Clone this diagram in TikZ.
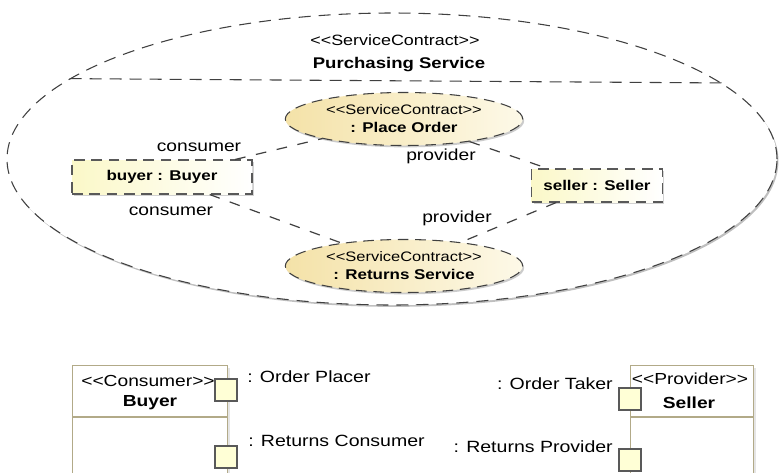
\documentclass[tikz,border=0pt]{standalone}
\usepackage{fontspec}
\setmainfont{Liberation Sans}[FakeStretch=1.2]
\usetikzlibrary{shapes.geometric, positioning, shadows}

\definecolor{tanA}{RGB}{244,226,168}
\definecolor{tanB}{RGB}{253,249,232}
\definecolor{partA}{RGB}{251,248,200}
\definecolor{khaki}{RGB}{178,170,136}
\definecolor{portfill}{RGB}{255,255,214}

\newcommand\stfont{\fontsize{10.3}{12}\selectfont}
\newcommand\namefont{\fontsize{10.6}{12}\selectfont\bfseries}
\newcommand\rolefont{\fontsize{12}{14}\selectfont}
\newcommand\portfont{\fontsize{12.2}{14}\selectfont}
\newcommand\stereo[1]{<\kern0pt<#1>\kern0pt>}

\begin{document}
\begin{tikzpicture}[
  x=0.75pt, y=-0.75pt,
  contract/.style={ellipse, draw=black!75, line width=0.8pt, dash pattern=on 9pt off 6pt, fill=white, inner sep=0pt, minimum width=577.5pt, minimum height=219pt, drop shadow={shadow xshift=1.1pt, shadow yshift=-1.4pt, fill=black!50}},
  usage/.style={ellipse, draw=black!75, line width=0.8pt, dash pattern=on 8pt off 5pt, left color=tanA, right color=tanB, inner sep=0pt, minimum width=178pt, minimum height=39.75pt, align=center, drop shadow={shadow xshift=1.1pt, shadow yshift=-1.4pt, fill=black!40}},
  part/.style={rectangle, draw=black!65, line width=0.8pt, dash pattern=on 8pt off 5pt, left color=partA, right color=white, font=\namefont, inner sep=0pt, drop shadow={shadow xshift=1.4pt, shadow yshift=-1.4pt, fill=black!35}},
  role/.style={font=\rolefont, inner sep=0pt},
  link/.style={draw=black!75, line width=0.9pt, dash pattern=on 8pt off 8pt},
  classbox/.style={rectangle, draw=khaki, line width=0.8pt, fill=white, anchor=north west, inner sep=0pt, minimum height=90pt, drop shadow={shadow xshift=1.5pt, shadow yshift=-1.5pt, fill=black!20}},
  divider/.style={draw=khaki, line width=0.8pt},
  port/.style={rectangle, draw=black!65, fill=portfill, line width=0.8pt, minimum size=16.5pt, inner sep=0pt},
  portlabel/.style={font=\portfont, inner sep=0pt}
]
  \useasboundingbox (0,0) rectangle (779,472);
  \clip (0,0) rectangle (779,472);

  % service contract
  \node [contract] (contract) at (392,159) {};
  \draw [link, line width=0.8pt, dash pattern=on 9pt off 6pt] (contract.166.5) -- (contract.13.5);
  \node [font=\fontsize{11.2}{13}\selectfont] (contractSt) at (395,40) {\stereo{ServiceContract}};
  \node [font=\fontsize{11.6}{13}\selectfont\bfseries] (contractName) at (399,65) {Purchasing Service};

  \node [usage] (placeOrder) at (404,119) {{\stfont\stereo{ServiceContract}}\\[1.5pt]{\namefont : Place Order}};
  \node [usage] (returnsSvc) at (404,266) {{\stfont\stereo{ServiceContract}}\\[1.5pt]{\namefont : Returns Service}};

  \node [part, minimum width=135pt, minimum height=25.5pt] (buyer) at (162,177) {buyer : Buyer};
  \node [part, minimum width=98pt, minimum height=24.75pt] (seller) at (597,185.5) {seller : Seller};

  \draw [link] (buyer) -- (placeOrder);
  \draw [link] (placeOrder) -- (seller);
  \draw [link] (buyer) -- (returnsSvc);
  \draw [link] (seller) -- (returnsSvc);

  \node [role] (consumerA) at (199,147) {consumer};
  \node [role] (providerA) at (441,156) {provider};
  \node [role] (consumerB) at (171,211) {consumer};
  \node [role] (providerB) at (457,218) {provider};

  % participants
  \node [classbox, minimum width=116.25pt] (buyerClass) at (72,365) {};
  \draw [divider] (buyerClass.north west) ++(0,52) -- ++(155,0);
  \node [font=\fontsize{12}{14}\selectfont] (buyerSt) at (148,381) {\stereo{Consumer}};
  \node [font=\fontsize{12}{14}\selectfont\bfseries] (buyerName) at (150,403) {Buyer};

  \node [classbox, minimum width=92.25pt] (sellerClass) at (630,365) {};
  \draw [divider] (sellerClass.north west) ++(0,52) -- ++(123,0);
  \node [font=\fontsize{12}{14}\selectfont] (sellerSt) at (690,379) {\stereo{Provider}};
  \node [font=\fontsize{12}{14}\selectfont\bfseries] (sellerName) at (689,403) {Seller};

  \node [port] (orderPlacer) at (226,390) {};
  \node [port] (returnsConsumer) at (226,457) {};
  \node [port] (orderTaker) at (630,399) {};
  \node [port] (returnsProvider) at (630,460) {};

  \node [portlabel, anchor=west] (orderPlacerLbl) at (247,377) {: Order Placer};
  \node [portlabel, anchor=west] (returnsConsumerLbl) at (248,441) {: Returns Consumer};
  \node [portlabel, anchor=east] (orderTakerLbl) at (613,384) {: Order Taker};
  \node [portlabel, anchor=east] (returnsProviderLbl) at (613,447) {: Returns Provider};
\end{tikzpicture}
\end{document}
